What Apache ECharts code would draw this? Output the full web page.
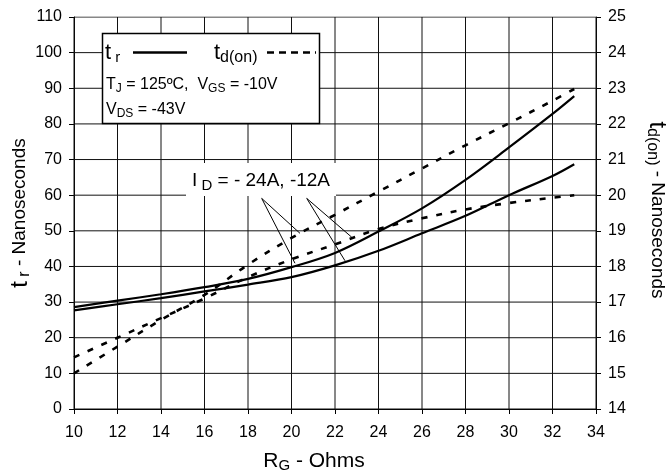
<!DOCTYPE html>
<html><head><meta charset="utf-8">
<script src="https://cdn.jsdelivr.net/npm/echarts@6/dist/echarts.min.js"></script>
<style>html,body{margin:0;padding:0;background:#fff}#c{width:671px;height:473px}</style>
</head><body><div id="c"></div>
<script>
// R_G (Ohms)
const rg   = [10, 12, 14, 16, 18, 20, 22, 24, 26, 28, 30, 32, 33];
// t_r (ns, left axis)
const tr24 = [28.6, 30.4, 32.2, 34.2, 36.5, 39.8, 43.8, 49.8, 56.3, 64.3, 73.4, 82.8, 87.8];
const tr12 = [27.7, 29.4, 31.1, 33.0, 34.9, 37.0, 40.3, 44.4, 49.3, 54.2, 60.0, 65.4, 68.7];
// t_d(on) (ns, right axis)
const td24 = [15.0, 15.75, 16.5, 17.2, 18.05, 18.8, 19.45, 20.1, 20.75, 21.4, 22.02, 22.65, 22.98];
const td12 = [15.45, 16.0, 16.55, 17.1, 17.7, 18.2, 18.62, 19.05, 19.35, 19.6, 19.78, 19.93, 20.0];
// grid line positions (tick values)
const xTicks = [10, 12, 14, 16, 18, 20, 22, 24, 26, 28, 30, 32, 34];
const yTicks = [0, 10, 20, 30, 40, 50, 60, 70, 80, 90, 100, 110];
// annotation leader lines (data coords, left axis)
const leaderFrom = [[18.63, 59.1], [18.63, 59.1], [20.70, 59.1], [20.70, 59.1]];
const leaderTo   = [[20.39, 49.3], [20.16, 40.9], [22.77, 48.2], [22.46, 41.6]];

const FONT = '"Liberation Sans", Arial, Helvetica, sans-serif';
const pts = ys => rg.map((x, i) => [x, ys[i]]);
const subRich = (main, sub, pad, big) => ({
  m: {fontSize: main, color: '#000', fontFamily: FONT},
  big: {fontSize: big || 22, color: '#000', fontFamily: FONT},
  s: {fontSize: sub, color: '#000', fontFamily: FONT, padding: [pad, 0, 0, 0]}
});

const chart = echarts.init(document.getElementById('c'));
const solid = {color: '#000', width: 2.2, type: 'solid'};
const dashed = {color: '#000', width: 2.6, type: [6, 9]};
const gridStyle = () => ({color: '#111', width: 1, type: 'solid'});
const X0 = xTicks[0], X1 = xTicks[xTicks.length - 1];
const Y0 = yTicks[0], Y1 = yTicks[yTicks.length - 1];

const gridSeries = xTicks.map(v => [[v, Y0], [v, Y1]])
  .concat(yTicks.map(v => [[X0, v], [X1, v]]))
  .map(d => ({type: 'line', yAxisIndex: 0, data: d, showSymbol: false, silent: true, z: 1,
              lineStyle: gridStyle(), emphasis: {disabled: true}}));

chart.setOption({
  animation: false,
  backgroundColor: '#fff',
  textStyle: {fontFamily: FONT},
  grid: {left: 74, right: 75, top: 17, bottom: 64, containLabel: false, outerBoundsMode: 'none'},
  xAxis: {
    type: 'value', min: 10, max: 34, interval: 2,
    axisLine: {lineStyle: {color: '#000', width: 1}},
    axisTick: {show: true, inside: false, length: 5, lineStyle: {color: '#000'}},
    axisLabel: {color: '#000', fontSize: 16, margin: 16, fontFamily: FONT},
    splitLine: {show: false},
    name: '{m|R}{s|G}{m| - Ohms}', nameLocation: 'middle', nameGap: 40, nameMoveOverlap: false,
    nameTextStyle: {padding: [0, 42, 0, 0], rich: subRich(21, 15, 9)}
  },
  yAxis: [{
    type: 'value', min: 0, max: 110, interval: 10, position: 'left',
    axisLine: {show: true, lineStyle: {color: '#000', width: 1}},
    axisTick: {show: true, inside: false, length: 5, lineStyle: {color: '#000'}},
    axisLabel: {color: '#000', fontSize: 16, margin: 12, fontFamily: FONT},
    splitLine: {show: false},
    name: '{big|t}{s| r}{m| - Nanoseconds}', nameLocation: 'middle', nameGap: 41, nameRotate: 90,
    nameMoveOverlap: false,
    nameTextStyle: {rich: subRich(19, 16, 10, 24)}
  }, {
    type: 'value', min: 14, max: 25, interval: 1, position: 'right',
    axisLine: {show: true, lineStyle: {color: '#000', width: 1}},
    axisTick: {show: true, inside: false, length: 5, lineStyle: {color: '#000'}},
    axisLabel: {color: '#000', fontSize: 16, margin: 12, fontFamily: FONT},
    splitLine: {show: false},
    name: '{big|t}{s|d(on)}{m| - Nanoseconds}', nameLocation: 'middle', nameGap: 48, nameRotate: -90,
    nameMoveOverlap: false,
    nameTextStyle: {padding: [0, 6, 0, 0], rich: subRich(19, 16, 10, 24)}
  }],
  series: gridSeries.concat([
    {name: 'tr24', type: 'line', yAxisIndex: 0, data: pts(tr24), smooth: 0.35, showSymbol: false, lineStyle: solid, z: 3,
     markLine: {silent: true, symbol: ['none', 'none'], label: {show: false},
       lineStyle: {color: '#000', width: 1, type: 'solid'},
       data: leaderFrom.map((f, i) => [{coord: f}, {coord: leaderTo[i]}])}},
    {name: 'tr12', type: 'line', yAxisIndex: 0, data: pts(tr12), smooth: 0.35, showSymbol: false, lineStyle: solid, z: 3},
    {name: 'td24', type: 'line', yAxisIndex: 1, data: pts(td24), smooth: 0.35, showSymbol: false, lineStyle: dashed, z: 3},
    {name: 'td12', type: 'line', yAxisIndex: 1, data: pts(td12), smooth: 0.35, showSymbol: false, lineStyle: dashed, z: 3}
  ]),
  graphic: [
    {type: 'rect', z: 50, shape: {x: 102.5, y: 33.5, width: 217, height: 90},
     style: {fill: '#fff', stroke: '#000', lineWidth: 1.5}},
    {type: 'text', z: 51, x: 105, y: 53,
     style: {text: '{big|t}{s| r}', rich: subRich(16, 15, 10), verticalAlign: 'middle'}},
    {type: 'line', z: 51, shape: {x1: 133, y1: 52.5, x2: 187, y2: 52.5}, style: {stroke: '#000', lineWidth: 2.5}},
    {type: 'text', z: 51, x: 214, y: 53,
     style: {text: '{big|t}{s|d(on)}', rich: subRich(16, 16, 10), verticalAlign: 'middle'}},
    {type: 'line', z: 51, shape: {x1: 267, y1: 52.5, x2: 316, y2: 52.5}, style: {stroke: '#000', lineWidth: 2.5, lineDash: [7, 5]}},
    {type: 'text', z: 51, x: 106, y: 85,
     style: {text: '{m|T}{s|J}{m| = 125ºC,  V}{s|GS}{m| = -10V}', rich: subRich(16, 12, 8), verticalAlign: 'middle'}},
    {type: 'text', z: 51, x: 106, y: 110,
     style: {text: '{m|V}{s|DS}{m| = -43V}', rich: subRich(16, 12, 8), verticalAlign: 'middle'}},
    {type: 'rect', z: 50, shape: {x: 186, y: 163, width: 150, height: 33}, style: {fill: '#fff'}},
    {type: 'text', z: 51, x: 192, y: 181,
     style: {text: '{m|I}{s| D}{m| = - 24A, -12A}', rich: subRich(19, 15, 9), verticalAlign: 'middle'}}
  ]
});
</script></body></html>
